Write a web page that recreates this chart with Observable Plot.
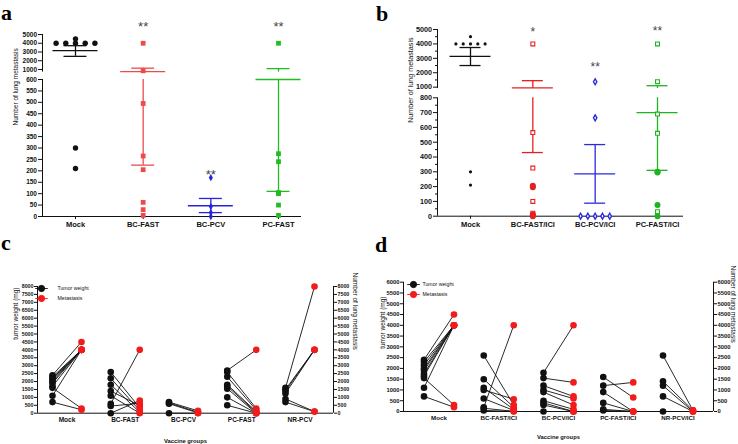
<!DOCTYPE html>
<html><head><meta charset="utf-8">
<script src="https://cdn.jsdelivr.net/npm/d3@7"></script>
<script src="https://cdn.jsdelivr.net/npm/@observablehq/plot@0.6"></script>
<style>
body{margin:0;background:#fff;}
#fig{position:relative;width:738px;height:444px;overflow:hidden;background:#fff;}
#fig svg{position:absolute;overflow:visible;}
.tag{position:absolute;font-family:"Liberation Serif","Times New Roman",serif;font-weight:bold;font-size:22px;line-height:14px;height:14px;color:#000;}
</style></head><body><div id="fig"></div>
<script>
// ---------- Panel a data ----------
const catsA = ["Mock", "BC-FAST", "BC-PCV", "PC-FAST"];
const aMock = [4000, 4000, 4000, 4000, 4000, 4500, 300, 210];
const aBCFast = [4000, 850, 495, 265, 205, 62, 30, 5];
const aBCPcv = [170, 44, 17, 0];
const aPCFast = [4000, 275, 240, 105, 100, 50, 5];
const aMean = [3150, 745, 47, 600];
const aUpper = [3720, 1150, 79, 1100];
const aLower = [2500, 225, 17, 110];
const aStars = ["", "**", "**", "**"];
const aStarLevel = [null, 6250, 197, 6250];
const aTicksLow = [0, 50, 100, 150, 200, 250, 300, 350, 400, 450, 500, 550, 600];
const aTicksHigh = [1000, 2000, 3000, 4000, 5000];

// ---------- Panel b data ----------
const catsB = ["Mock", "BC-FAST/ICI", "BC-PCV/ICI", "PC-FAST/ICI"];
const bMock = [4000, 4000, 4000, 4000, 4000, 4500, 300, 210];
const bBCFastOpen = [4000, 565, 325, 100, 20];
const bBCFastFilled = [205, 195, 12, 5, 0];
const bBCPcv = [1375, 665, 0, 0, 0, 0, 0];
const bPCFastOpen = [4000, 1380, 690, 560, 30];
const bPCFastFilled = [300, 295, 75, 0];
const bMean = [3130, 950, 286, 700];
const bUpper = [3750, 1450, 484, 1100];
const bLower = [2500, 430, 88, 310];
const bStars = ["", "*", "**", "**"];
const bStarLevel = [null, 5050, 2570, 5070];
const bTicksLow = [0, 100, 200, 300, 400, 500, 600, 700, 800];
const bTicksHigh = [1000, 2000, 3000, 4000, 5000];
const bMinor = [50, 150, 250, 350, 450, 550, 650, 750, 1500, 2500, 3500, 4500];

// ---------- Panel c data: [tumor weight (mg), lung metastasis] ----------
const catsC = ["Mock", "BC-FAST", "BC-PCV", "PC-FAST", "NR-PCV"];
const cMock = [[2400, 4500], [2300, 4000], [2200, 4000], [2100, 4000], [2000, 4000], [1900, 4000], [1700, 4000], [1600, 300], [1100, 4000], [700, 220]];
const cBCFast = [[2600, 340], [2200, 170], [1800, 60], [1400, 480], [1100, 0], [600, 4000], [450, 630], [0, 800]];
const cBCPcv = [[700, 150], [650, 60], [600, 20], [0, 0]];
const cPCFast = [[2700, 4000], [2600, 300], [2300, 200], [1800, 100], [1700, 50], [1550, 0], [1000, 0], [500, 0]];
const cNRPcv = [[1600, 8000], [1500, 4000], [1400, 4000], [1250, 4000], [900, 100], [700, 100]];
const cTicks = [0, 500, 1000, 1500, 2000, 2500, 3000, 3500, 4000, 4500, 5000, 5500, 6000, 6500, 7000, 7500, 8000];

// ---------- Panel d data ----------
const catsD = ["Mock", "BC-FAST/ICI", "BC-PCV/ICI", "PC-FAST/ICI", "NR-PCV/ICI"];
const dMock = [[2400, 4500], [2300, 4000], [2150, 4000], [2000, 4000], [1900, 4000], [1750, 4000], [1650, 4000], [1550, 300], [1100, 4000], [700, 200]];
const dBCFast = [[2600, 300], [1500, 200], [1100, 100], [1000, 570], [600, 50], [200, 4000], [150, 10], [50, 0]];
const dBCPcv = [[1800, 4000], [1550, 1350], [1200, 700], [1000, 600], [900, 300], [500, 100], [400, 0], [300, 0], [0, 0]];
const dPCFast = [[1600, 650], [1200, 1350], [900, 0], [400, 0], [100, 0], [50, 0]];
const dNRPcv = [[2600, 50], [1400, 50], [1200, 0], [700, 0], [0, 0]];
const dTicks = [0, 500, 1000, 1500, 2000, 2500, 3000, 3500, 4000, 4500, 5000, 5500, 6000];

const legendLabels = ["Tumor weight", "Metastasis"];
const SANS = "'Liberation Sans', Arial, Helvetica, sans-serif";
const INK = "#111";

// spread identical values side by side (beeswarm-like)
function spread(values, step) {
  const counts = d3.rollup(values, v => v.length, d => d);
  const seen = new Map();
  return values.map(v => {
    const n = counts.get(v), k = seen.get(v) || 0;
    seen.set(v, k + 1);
    return {v, off: (k - (n - 1) / 2) * step};
  });
}

function brokenPanel(o) {
  const n = o.cats.length;
  const unit = (o.cLast - o.cFirst) / (n - 1);
  const u = px => (px - o.cFirst) / unit;
  const xL = u(o.left), xR = u(o.right);
  const [d0, b1, b2, top] = o.yDomain;
  const marks = [];
  marks.push(Plot.ruleX([xL], {y1: d0, y2: b1, stroke: INK, strokeWidth: 1}));
  marks.push(Plot.ruleX([xL], {y1: b2, y2: top, stroke: INK, strokeWidth: 1}));
  marks.push(Plot.ruleY([0], {x1: xL, x2: xR, stroke: INK, strokeWidth: 1}));
  marks.push(Plot.axisY({ticks: o.ticksLow.concat(o.ticksHigh), tickSize: 4, tickPadding: 1.5,
    tickFormat: d => String(d), label: null, fontSize: o.tickFont, fontWeight: "bold", stroke: INK, fill: INK}));
  if (o.minor) marks.push(Plot.axisY({ticks: o.minor, tickSize: 2, tickFormat: () => "", label: null, stroke: INK}));
  marks.push(Plot.axisX({ticks: d3.range(n), tickSize: 3, tickPadding: 2, tickFormat: i => o.cats[i],
    label: null, fontSize: o.catFont, fontWeight: "bold", stroke: INK, fill: INK}));
  o.groups.forEach(g => {
    const i = g.i, c = g.color;
    const lo = o.lower[i], hi = o.upper[i];
    const segs = [];
    if (lo < b1) segs.push([lo, Math.min(hi, b1)]);
    if (hi > b2) segs.push([Math.max(lo, b2), hi]);
    marks.push(Plot.ruleX(segs, {x: i, y1: d => d[0], y2: d => d[1], stroke: c, strokeWidth: 1.3}));
    marks.push(Plot.ruleY([hi, lo], {x1: i - o.capHalf / unit, x2: i + o.capHalf / unit, stroke: c, strokeWidth: 1.3}));
    marks.push(Plot.ruleY([o.mean[i]], {x1: i - o.meanHalf / unit, x2: i + o.meanHalf / unit, stroke: c, strokeWidth: 1.3}));
    g.sets.forEach(s => {
      const pts = spread(s.values, o.dupStep / unit).map(p => ({x: i + p.off, y: p.v}));
      marks.push(Plot.dot(pts, {x: "x", y: "y", symbol: s.symbol, r: s.r, fill: s.fill, stroke: s.stroke || "none", strokeWidth: s.sw || 1}));
    });
  });
  const starData = o.stars.map((t, i) => ({i, t, lv: o.starLevel[i]})).filter(d => d.t);
  marks.push(Plot.text(starData, {x: "i", y: "lv", text: "t", fontSize: o.starFont, fill: "#444", dy: o.starFont * 0.25, fontWeight: "normal"}));
  marks.push(Plot.text([o.yLabel], {text: d => d, frameAnchor: "left", rotate: -90, dx: o.yLabelDx, fontSize: o.yLabelFont, fontWeight: "normal", fill: INK}));
  return Plot.plot({
    width: o.width, height: o.height,
    marginLeft: o.left, marginRight: o.width - o.right,
    marginTop: o.yRange[3], marginBottom: o.height - o.yRange[0],
    x: {type: "linear", domain: [xL, xR]},
    y: {type: "linear", domain: o.yDomain, range: o.yRange},
    style: {fontFamily: SANS, background: "transparent", overflow: "visible"},
    marks
  });
}

const dotLine = {
  draw(ctx, size) {
    const r = Math.sqrt(size / Math.PI);
    ctx.moveTo(r, 0);
    ctx.arc(0, 0, r, 0, 2 * Math.PI);
    ctx.moveTo(-2 * r, 0);
    ctx.lineTo(2 * r, 0);
  }
};

function pairedPanel(o) {
  const n = o.cats.length;
  const unit = (o.cLast - o.cFirst) / (n - 1);
  const u = px => (px - o.cFirst) / unit;
  const xL = u(o.left), xR = u(o.right);
  const off = o.pairHalf / unit;
  const top = o.yMax;
  const links = [], blacks = [], reds = [];
  o.groups.forEach((pairs, i) => pairs.forEach(([tw, met]) => {
    links.push({x1: i - off, y1: tw, x2: i + off, y2: met});
    blacks.push({x: i - off, y: tw});
    reds.push({x: i + off, y: met});
  }));
  const colors = [INK, o.red];
  const marks = [
    Plot.ruleX([xL], {y1: 0, y2: top, stroke: INK}),
    Plot.ruleX([xR], {y1: 0, y2: top, stroke: INK}),
    Plot.ruleY([0], {x1: xL, x2: xR, stroke: INK}),
    Plot.axisY({ticks: o.ticks, tickSize: 3, tickPadding: 1, tickFormat: d => String(d), label: null,
      fontSize: o.tickFont, fontWeight: "bold", stroke: INK, fill: INK}),
    Plot.axisY({anchor: "right", ticks: o.ticks, tickSize: 3, tickPadding: 1, tickFormat: d => String(d), label: null,
      fontSize: o.tickFont, fontWeight: "bold", stroke: INK, fill: INK}),
    Plot.axisX({ticks: d3.range(n), tickSize: 0, tickPadding: o.catPad, tickFormat: i => o.cats[i], label: null,
      fontSize: o.catFont, fontWeight: "bold", fill: INK}),
    Plot.link(links, {x1: "x1", y1: "y1", x2: "x2", y2: "y2", stroke: INK, strokeWidth: 0.9}),
    Plot.dot(blacks, {x: "x", y: "y", r: o.r, fill: INK}),
    Plot.dot(reds, {x: "x", y: "y", r: o.r, fill: o.red}),
    Plot.text([o.yLabel], {text: d => d, frameAnchor: "left", rotate: -90, dx: o.yLabelDx, dy: o.yLabelDy, fontSize: o.labelFont, fontWeight: "normal", fill: INK}),
    Plot.text([o.y2Label], {text: d => d, frameAnchor: "right", rotate: 90, dx: o.y2LabelDx, dy: o.y2LabelDy, fontSize: o.labelFont, fontWeight: "normal", fill: INK}),
    Plot.text([o.xLabel], {text: d => d, frameAnchor: "bottom", dy: o.xLabelDy, fontSize: o.xLabelFont, fontWeight: "bold", fill: INK})
  ];
  legendLabels.forEach((lab, k) => {
    marks.push(Plot.dot([{x: xL, y: top}], {x: "x", y: "y", dx: o.legDotDx, dy: o.legDy + k * o.legGap, symbol: dotLine, r: o.r * 0.95, fill: colors[k], stroke: colors[k], strokeWidth: 0.9}));
    marks.push(Plot.text([{x: xL, y: top, t: lab}], {x: "x", y: "y", text: "t", dx: o.legTextDx, dy: o.legDy + k * o.legGap, textAnchor: "start", fontSize: o.legFont, fontWeight: "normal", fill: INK}));
  });
  return Plot.plot({
    width: o.width, height: o.height,
    marginLeft: o.left, marginRight: o.width - o.right,
    marginTop: o.yTop, marginBottom: o.height - o.yZero,
    x: {type: "linear", domain: [xL, xR]},
    y: {type: "linear", domain: [0, top]},
    style: {fontFamily: SANS, background: "transparent", overflow: "visible"},
    marks
  });
}

const fig = document.getElementById("fig");
function place(svg, left, top) { svg.style.left = left + "px"; svg.style.top = top + "px"; fig.appendChild(svg); }

// Panel a
place(brokenPanel({
  width: 370, height: 230, left: 42, right: 301, cFirst: 75, cLast: 278, cats: catsA,
  yDomain: [0, 600, 700, 5000], yRange: [216, 79, 71.6, 34],
  ticksLow: aTicksLow, ticksHigh: aTicksHigh, tickFont: 6.5, catFont: 7.5,
  mean: aMean, upper: aUpper, lower: aLower, meanHalf: 22.5, capHalf: 11.5, dupStep: 9.7,
  stars: aStars, starLevel: aStarLevel, starFont: 13,
  yLabel: "Number of lung metastasis", yLabelDx: -27, yLabelFont: 6.5,
  groups: [
    {i: 0, color: INK, sets: [{values: aMock, symbol: "circle", r: 2.7, fill: INK}]},
    {i: 1, color: "#ef4a4a", sets: [{values: aBCFast, symbol: "square", r: 2.7, fill: "#ef4a4a"}]},
    {i: 2, color: "#2626d9", sets: [{values: aBCPcv, symbol: "diamond", r: 2.2, fill: "#2626d9"}]},
    {i: 3, color: "#22bb22", sets: [{values: aPCFast, symbol: "square", r: 2.7, fill: "#22bb22"}]}
  ]
}), 0, 0);

// Panel b
place(brokenPanel({
  width: 368, height: 230, left: 67, right: 313, cFirst: 100, cLast: 287, cats: catsB,
  yDomain: [0, 800, 900, 5000], yRange: [215.7, 97.3, 88.1, 29],
  ticksLow: bTicksLow, ticksHigh: bTicksHigh, minor: bMinor, tickFont: 7.2, catFont: 7.5,
  mean: bMean, upper: bUpper, lower: bLower, meanHalf: 20.5, capHalf: 10.5, dupStep: 7.3,
  stars: bStars, starLevel: bStarLevel, starFont: 12,
  yLabel: "Number of lung metastasis", yLabelDx: -27, yLabelFont: 7.2,
  groups: [
    {i: 0, color: INK, sets: [{values: bMock, symbol: "circle", r: 1.6, fill: INK}]},
    {i: 1, color: "#e62020", sets: [
      {values: bBCFastOpen, symbol: "square", r: 2.2, fill: "white", stroke: "#e62020", sw: 1.1},
      {values: bBCFastFilled, symbol: "circle", r: 3, fill: "#e62020"}]},
    {i: 2, color: "#2b2bdd", sets: [{values: bBCPcv, symbol: "diamond", r: 1.8, fill: "white", stroke: "#2b2bdd", sw: 1.4}]},
    {i: 3, color: "#1fb31f", sets: [
      {values: bPCFastOpen, symbol: "square", r: 2.2, fill: "white", stroke: "#1fb31f", sw: 1.1},
      {values: bPCFastFilled, symbol: "circle", r: 3, fill: "#1fb31f"}]}
  ]
}), 370, 0);

// Panel c
place(pairedPanel({
  width: 370, height: 214, left: 37, right: 333, cFirst: 66.5, cLast: 299.5, cats: catsC,
  yMax: 8000, yTop: 56, yZero: 182.7, ticks: cTicks, tickFont: 5.3, catFont: 6.5, catPad: 4,
  groups: [cMock, cBCFast, cBCPcv, cPCFast, cNRPcv], pairHalf: 14.5, r: 3.3, red: "#f21b1b",
  yLabel: "tumor weight (mg)", yLabelDx: -22, yLabelDy: -10,
  y2Label: "Number of lung metastasis", y2LabelDx: 22, y2LabelDy: 0, labelFont: 6.5,
  xLabel: "Vaccine groups", xLabelDy: 30, xLabelFont: 5.8,
  legDotDx: 4, legTextDx: 20, legDy: 2, legGap: 10, legFont: 5.2
}), 0, 230);

// Panel d
place(pairedPanel({
  width: 368, height: 214, left: 33, right: 343, cFirst: 68.5, cLast: 307.5, cats: catsD,
  yMax: 6000, yTop: 51.7, yZero: 181, ticks: dTicks, tickFont: 5.8, catFont: 6.2, catPad: 4,
  groups: [dMock, dBCFast, dBCPcv, dPCFast, dNRPcv], pairHalf: 15, r: 3.3, red: "#f21b1b",
  yLabel: "tumor weight (mg)", yLabelDx: -21, yLabelDy: 2,
  y2Label: "Number of lung metastasis", y2LabelDx: 20, y2LabelDy: -4, labelFont: 6.5,
  xLabel: "Vaccine groups", xLabelDy: 27, xLabelFont: 5.8,
  legDotDx: 10, legTextDx: 19, legDy: 2.3, legGap: 10, legFont: 5.2
}), 370, 230);

// panel tags
[["a", 1, 5.5], ["b", 376, 6.5], ["c", 1, 235.5], ["d", 375, 237.5]].forEach(([t, x, y]) => {
  const el = document.createElement("div");
  el.className = "tag"; el.textContent = t;
  el.style.left = x + "px"; el.style.top = y + "px";
  fig.appendChild(el);
});
</script>
</body></html>
